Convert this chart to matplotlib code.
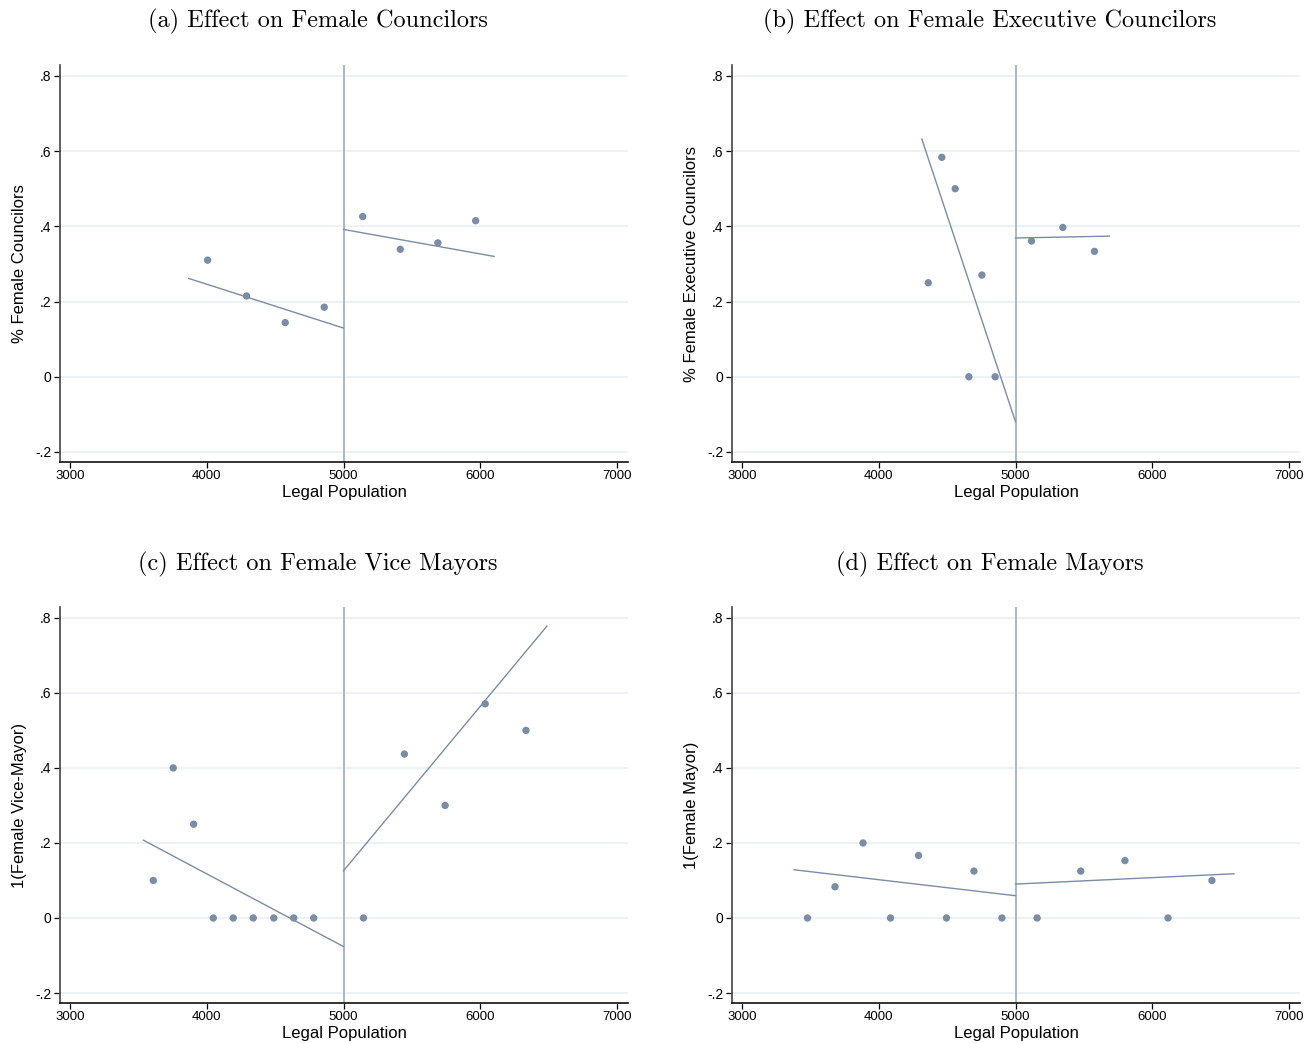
import numpy as np
import matplotlib
matplotlib.use('Agg')
import matplotlib.pyplot as plt

# binned means
a_x = [4006, 4291, 4574, 4859, 5140, 5415, 5690, 5966]
a_y = [0.310, 0.215, 0.144, 0.185, 0.426, 0.339, 0.356, 0.415]
a_fit_left = ([3868, 5000], [0.2615, 0.1295])
a_fit_right = ([5000, 6101], [0.3918, 0.320])

b_x = [4362, 4461, 4559, 4659, 4754, 4851, 5117, 5346, 5577]
b_y = [0.25, 0.5835, 0.5, 0.0, 0.2705, 0.0, 0.361, 0.397, 0.3335]
b_fit_left = ([4315, 5000], [0.632, -0.1197])
b_fit_right = ([5000, 5687], [0.369, 0.374])

c_x = [3609, 3755, 3904, 4048, 4194, 4340, 4490, 4636, 4782, 5146, 5445, 5743, 6036, 6334]
c_y = [0.1, 0.4, 0.25, 0, 0, 0, 0, 0, 0, 0, 0.437, 0.3, 0.571, 0.5]
c_fit_left = ([3537, 5000], [0.2074, -0.0762])
c_fit_right = ([5000, 6487], [0.1258, 0.778])

d_x = [3479, 3680, 3885, 4086, 4291, 4495, 4696, 4901, 5158, 5477, 5800, 6115, 6436]
d_y = [0, 0.0833, 0.2, 0, 0.1667, 0, 0.125, 0, 0, 0.125, 0.153, 0, 0.1]
d_fit_left = ([3382, 5000], [0.1285, 0.0594])
d_fit_right = ([5000, 6597], [0.0904, 0.1179])

titles = ['(a) Effect on Female Councilors',
          '(b) Effect on Female Executive Councilors',
          '(c) Effect on Female Vice Mayors',
          '(d) Effect on Female Mayors']
ylabels = ['% Female Councilors', '% Female Executive Councilors',
           '1(Female Vice-Mayor)', '1(Female Mayor)']
xticks = [3000, 4000, 5000, 6000, 7000]
yticks = [-0.2, 0, 0.2, 0.4, 0.6, 0.8]
ytick_labels = ['-.2', '0', '.2', '.4', '.6', '.8']

panels = [(a_x, a_y, a_fit_left, a_fit_right),
          (b_x, b_y, b_fit_left, b_fit_right),
          (c_x, c_y, c_fit_left, c_fit_right),
          (d_x, d_y, d_fit_left, d_fit_right)]

W, H = 1306, 1044
plt.rcParams['font.family'] = ['Liberation Sans', 'DejaVu Sans']
fig = plt.figure(figsize=(W / 100, H / 100), dpi=100)

# axes boxes in pixels: left, top, right, bottom
boxes = [(60, 65, 628, 462), (732, 65, 1300, 462),
         (60, 607, 628, 1003), (732, 607, 1300, 1003)]
title_pos = [(318, 21), (990, 21), (318, 564), (990, 564)]

dot = '#7a8da5'
vline = '#a3b3c4'

for i, (xs, ys, fl, fr) in enumerate(panels):
    l, t, r, b = boxes[i]
    ax = fig.add_axes([l / W, 1 - b / H, (r - l) / W, (b - t) / H])
    ax.set_xlim(2927, 7080)
    ax.set_ylim(-0.2266, 0.829)
    for yv in yticks:
        ax.axhline(yv, color='#eaf1f4', lw=1.2, zorder=0)
    ax.axvline(5000, color=vline, lw=1.3, zorder=1)
    ax.plot(fl[0], fl[1], color=dot, lw=1.0, zorder=2)
    ax.plot(fr[0], fr[1], color=dot, lw=1.0, zorder=2)
    ax.scatter(xs, ys, s=28, color=dot, edgecolors='none', zorder=3)

    ax.set_xticks(xticks)
    ax.set_xticklabels([str(v) for v in xticks], fontsize=9.5)
    ax.set_yticks(yticks)
    ax.set_yticklabels(ytick_labels, fontsize=10)
    ax.tick_params(direction='out', length=4, width=0.9, pad=2)
    for s in ['top', 'right']:
        ax.spines[s].set_visible(False)
    ax.spines['left'].set_color('#444444')
    ax.spines['bottom'].set_color('#111111')
    ax.spines['left'].set_linewidth(1.2)
    ax.spines['bottom'].set_linewidth(1.2)
    ax.set_xlabel('Legal Population', fontsize=12, labelpad=2)
    ax.set_ylabel(ylabels[i], fontsize=12, labelpad=6)

    tx, ty = title_pos[i]
    fig.text(tx / W, 1 - ty / H, titles[i], family='cmr10', fontsize=17.5,
             ha='center', va='center')

fig.savefig('out.png', dpi=100, facecolor='white')
